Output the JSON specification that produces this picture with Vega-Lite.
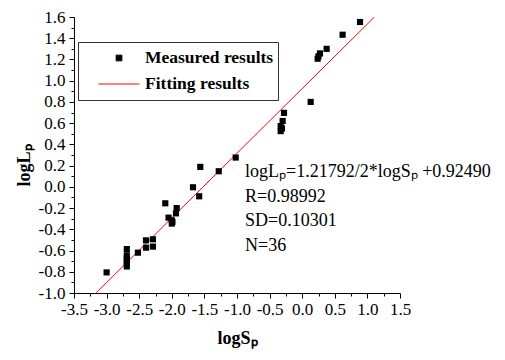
{
  "$schema": "https://vega.github.io/schema/vega-lite/v6.json",
  "width": 326,
  "height": 276,
  "autosize": {"type": "none"},
  "padding": {"left": 74, "top": 17, "right": 105, "bottom": 67},
  "background": "white",
  "config": {
    "font": "Liberation Serif",
    "view": {"stroke": null},
    "axis": {
      "domainColor": "black",
      "tickColor": "black",
      "labelColor": "black",
      "titleColor": "black",
      "grid": false,
      "labelFont": "Liberation Serif",
      "titleFont": "Liberation Serif",
      "labelFontSize": 17
    }
  },
  "datasets": {
    "measured": [
      {"logS": 0.887, "logL": 1.553},
      {"logS": 0.62, "logL": 1.433},
      {"logS": 0.375, "logL": 1.30},
      {"logS": 0.273, "logL": 1.257},
      {"logS": 0.25, "logL": 1.23},
      {"logS": 0.237, "logL": 1.207},
      {"logS": 0.13, "logL": 0.80},
      {"logS": -0.279, "logL": 0.697},
      {"logS": -0.30, "logL": 0.62},
      {"logS": -0.31, "logL": 0.55},
      {"logS": -0.33, "logL": 0.572},
      {"logS": -0.33, "logL": 0.525},
      {"logS": -1.02, "logL": 0.276},
      {"logS": -1.28, "logL": 0.147},
      {"logS": -1.563, "logL": 0.188},
      {"logS": -1.675, "logL": -0.004},
      {"logS": -1.58, "logL": -0.089},
      {"logS": -2.10, "logL": -0.155},
      {"logS": -1.925, "logL": -0.20},
      {"logS": -1.936, "logL": -0.25},
      {"logS": -2.05, "logL": -0.29},
      {"logS": -2.0, "logL": -0.315},
      {"logS": -1.99, "logL": -0.33},
      {"logS": -2.0, "logL": -0.346},
      {"logS": -2.29, "logL": -0.494},
      {"logS": -2.396, "logL": -0.504},
      {"logS": -2.29, "logL": -0.563},
      {"logS": -2.396, "logL": -0.573},
      {"logS": -2.52, "logL": -0.62},
      {"logS": -2.69, "logL": -0.586},
      {"logS": -2.69, "logL": -0.645},
      {"logS": -2.69, "logL": -0.67},
      {"logS": -2.69, "logL": -0.692},
      {"logS": -2.69, "logL": -0.72},
      {"logS": -2.69, "logL": -0.75},
      {"logS": -3.0, "logL": -0.806}
    ],
    "fit": [
      {"logS": -3.16, "logL": -0.999},
      {"logS": 1.108, "logL": 1.6}
    ]
  },
  "resolve": {"axis": {"x": "independent", "y": "independent"}},
  "layer": [
    {
      "data": {"name": "fit"},
      "mark": {"type": "line", "strokeWidth": 1, "clip": true},
      "encoding": {
        "x": {
          "field": "logS", "type": "quantitative",
          "scale": {"domain": [-3.5, 1.5], "nice": false, "zero": false},
          "axis": {
            "orient": "bottom",
            "values": [-3.25, -2.75, -2.25, -1.75, -1.25, -0.75, -0.25, 0.25, 0.75, 1.25],
            "labels": false, "domain": false, "tickSize": 3, "title": null
          }
        },
        "y": {
          "field": "logL", "type": "quantitative",
          "scale": {"domain": [-1.0, 1.6], "nice": false, "zero": false},
          "axis": {
            "orient": "left",
            "values": [-0.9, -0.7, -0.5, -0.3, -0.1, 0.1, 0.3, 0.5, 0.7, 0.9, 1.1, 1.3, 1.5],
            "labels": false, "domain": false, "tickSize": 3, "title": null
          }
        },
        "color": {
          "datum": "Fitting results",
          "scale": {"domain": ["Measured results", "Fitting results"], "range": ["black", "red"]},
          "legend": {
            "orient": "none",
            "legendX": 4,
            "legendY": 25,
            "title": null,
            "strokeColor": "#333333",
            "fillColor": "white",
            "padding": 4,
            "labelFontSize": 17.5,
            "labelFont": "Liberation Serif",
            "labelFontWeight": "bold",
            "labelColor": "black",
            "symbolSize": 1681,
            "symbolStrokeWidth": 1,
            "symbolType": {"expr": "datum.value === 'Fitting results' ? 'M-1,0H1' : 'M-0.14,-0.14H0.14V0.14H-0.14Z'"},
            "symbolFillColor": {"expr": "datum.value === 'Fitting results' ? 'transparent' : 'black'"},
            "clipHeight": 24,
            "symbolOffset": 16,
            "labelOffset": 5,
            "rowPadding": 2
          }
        }
      }
    },
    {
      "data": {"name": "measured"},
      "mark": {"type": "point", "shape": "square", "filled": true, "size": 38, "opacity": 1, "color": "black"},
      "encoding": {
        "x": {
          "field": "logS", "type": "quantitative",
          "axis": {
            "orient": "bottom",
            "values": [-3.5, -3, -2.5, -2, -1.5, -1, -0.5, 0, 0.5, 1, 1.5],
            "labelExpr": "replace(format(datum.value, '.1f'), '\u2212', '-')",
            "tickSize": 5, "labelPadding": 3, "labelFlush": false, "labelOverlap": false,
            "title": "logSₚ", "titleFontSize": 18, "titleFontWeight": "bold",
            "titleY": 50, "titleBaseline": "alphabetic"
          }
        },
        "y": {
          "field": "logL", "type": "quantitative",
          "axis": {
            "orient": "left",
            "values": [-1, -0.8, -0.6, -0.4, -0.2, 0, 0.2, 0.4, 0.6, 0.8, 1, 1.2, 1.4, 1.6],
            "labelExpr": "replace(format(datum.value, '.1f'), '\u2212', '-')",
            "tickSize": 5, "labelPadding": 4, "labelFlush": false, "labelOverlap": false,
            "title": "logLₚ", "titleFontSize": 18, "titleFontWeight": "bold",
            "titleX": -50, "titleY": 148, "titleBaseline": "middle"
          }
        }
      }
    },
    {
      "data": {"values": [{}]},
      "mark": {
        "type": "text",
        "align": "left",
        "baseline": "alphabetic",
        "fontSize": 18,
        "font": "Liberation Serif",
        "color": "black",
        "lineHeight": 24.5,
        "text": ["logLₚ=1.21792/2*logSₚ +0.92490", "R=0.98992", "SD=0.10301", "N=36"]
      },
      "encoding": {
        "x": {"datum": -0.877, "type": "quantitative", "axis": null},
        "y": {"datum": 0.09, "type": "quantitative", "axis": null}
      }
    }
  ]
}
